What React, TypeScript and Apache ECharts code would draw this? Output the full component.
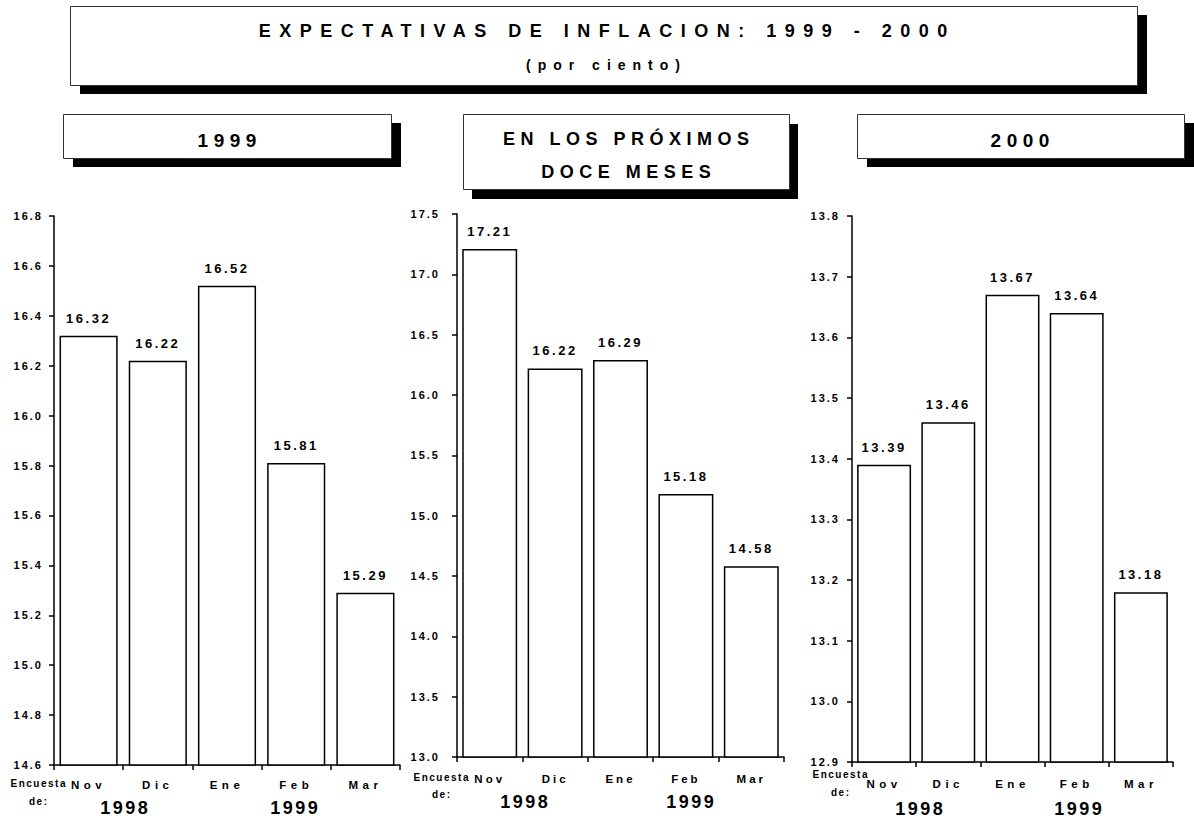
import React, { useEffect, useRef } from "react";
import * as echarts from "echarts";

// ---------- data ----------
const categories = ["Nov", "Dic", "Ene", "Feb", "Mar"];
const values1999 = [16.32, 16.22, 16.52, 15.81, 15.29];
const valuesNext12 = [17.21, 16.22, 16.29, 15.18, 14.58];
const values2000 = [13.39, 13.46, 13.67, 13.64, 13.18];

const mainTitle = "EXPECTATIVAS DE INFLACION: 1999 - 2000";
const subTitle = "(por ciento)";
const panelTitles = ["1999", "EN LOS PRÓXIMOS\nDOCE MESES", "2000"];
const surveyLabel = "Encuesta\nde:";
const yearLabels = ["1998", "1999"];

const yMins = [14.6, 13.0, 12.9];
const yMaxs = [16.8, 17.5, 13.8];
const yIntervals = [0.2, 0.5, 0.1];

// ---------- layout / style ----------
const FONT = "Liberation Sans";
const fam = (tok: string) => `${FONT}, ${tok}`;

const css = `
body { margin: 0; overflow: hidden; }
text[style*="qqTitle"] { letter-spacing: 8.5px; }
text[style*="qqSub"] { letter-spacing: 7px; }
text[style*="qqPanel"] { letter-spacing: 5.5px; }
text[style*="qqVal"] { letter-spacing: 2.5px; }
text[style*="qqAx"] { letter-spacing: 2px; }
text[style*="qqCatA"] { letter-spacing: 4.5px; }
text[style*="qqCatB"] { letter-spacing: 3px; }
text[style*="qqEnc"] { letter-spacing: 1.5px; }
text[style*="qqYear"] { letter-spacing: 2.5px; }
`;

const grids = [
  { left: 54, top: 216, width: 346, height: 549 },
  { left: 457, top: 214, width: 327, height: 543 },
  { left: 852, top: 216, width: 321, height: 546 },
];
const yLabelMargins = [11, 17, 12];
const catMargins = [14, 16, 16];
const catTokens = ["qqCatA", "qqCatB", "qqCatA"];

function boxWithShadow(x: number, y: number, w: number, h: number, dx: number, dy: number) {
  return [
    { type: "rect", shape: { x: x + dx, y: y + dy, width: w, height: h }, style: { fill: "#000" } },
    { type: "rect", shape: { x: x + 0.5, y: y + 0.5, width: w, height: h }, style: { fill: "#fff", stroke: "#333", lineWidth: 1 } },
  ];
}

function txt(text: string, x: number, y: number, size: number, tok: string, ls: number, lineHeight?: number) {
  return {
    type: "text",
    x: x + ls / 2,
    y,
    style: {
      text,
      fontSize: size,
      fontWeight: "bold",
      fontFamily: fam(tok),
      fill: "#000",
      align: "center",
      verticalAlign: "middle",
      lineHeight: lineHeight ?? size * 1.2,
    },
  };
}

export default function App() {
  const ref = useRef<HTMLDivElement>(null);

  useEffect(() => {
    if (!ref.current) return;
    document.body.style.margin = "0";
    const chart = echarts.init(ref.current, undefined, { renderer: "svg" });
    const seriesData = [values1999, valuesNext12, values2000];
    const lineStyle = { color: "#000", width: 1.5 };

    const graphic: any[] = [
      ...boxWithShadow(70, 6, 1067, 79, 10, 9),
      txt(mainTitle, 603, 31, 18, "qqTitle", 8.5),
      txt(subTitle, 603, 65, 14, "qqSub", 7),
      ...boxWithShadow(63, 114, 328, 44, 10, 9),
      txt(panelTitles[0], 227, 140, 19, "qqPanel", 5.5),
      ...boxWithShadow(463, 114, 326, 75, 9, 10),
      txt(panelTitles[1], 626, 155, 18, "qqPanel", 5.5, 33),
      ...boxWithShadow(857, 114, 327, 44, 10, 9),
      txt(panelTitles[2], 1020, 140, 19, "qqPanel", 5.5),
      txt(surveyLabel, 38, 792, 10, "qqEnc", 1.5, 18),
      txt(surveyLabel, 441, 786, 10, "qqEnc", 1.5, 17),
      txt(surveyLabel, 840, 783, 10, "qqEnc", 1.5, 18),
      txt(yearLabels[0], 124, 808, 18, "qqYear", 2.5),
      txt(yearLabels[1], 294, 808, 18, "qqYear", 2.5),
      txt(yearLabels[0], 524, 802, 18, "qqYear", 2.5),
      txt(yearLabels[1], 690, 802, 18, "qqYear", 2.5),
      txt(yearLabels[0], 919, 809, 18, "qqYear", 2.5),
      txt(yearLabels[1], 1078, 809, 18, "qqYear", 2.5),
    ];

    chart.setOption({
      animation: false,
      backgroundColor: "#fff",
      grid: grids.map((g) => ({ ...g, containLabel: false })),
      xAxis: grids.map((_, i) => ({
        type: "category",
        gridIndex: i,
        data: categories,
        axisLine: { show: true, lineStyle },
        axisTick: { show: true, length: 5, lineStyle },
        axisLabel: {
          margin: catMargins[i],
          fontSize: 11.5,
          fontWeight: "bold",
          fontFamily: fam(catTokens[i]),
          color: "#000",
        },
      })),
      yAxis: grids.map((_, i) => ({
        type: "value",
        gridIndex: i,
        min: yMins[i],
        max: yMaxs[i],
        interval: yIntervals[i],
        axisLine: { show: true, lineStyle },
        axisTick: { show: true, length: 5, lineStyle },
        splitLine: { show: false },
        axisLabel: {
          margin: yLabelMargins[i],
          fontSize: 11,
          fontWeight: "bold",
          fontFamily: fam("qqAx"),
          color: "#000",
          formatter: (v: number) => v.toFixed(1),
        },
      })),
      series: seriesData.map((d, i) => ({
        type: "bar",
        xAxisIndex: i,
        yAxisIndex: i,
        data: d,
        barWidth: "84%",
        itemStyle: { color: "#fff", borderColor: "#000", borderWidth: 1.5 },
        label: {
          show: true,
          position: "top",
          distance: 11,
          fontSize: 13,
          fontWeight: "bold",
          fontFamily: fam("qqVal"),
          color: "#000",
          formatter: (p: any) => Number(p.value).toFixed(2),
        },
      })),
      graphic,
    });

    return () => {
      chart.dispose();
    };
  }, []);

  return (
    <>
      <style>{css}</style>
      <div ref={ref} style={{ width: 1194, height: 821 }} />
    </>
  );
}
